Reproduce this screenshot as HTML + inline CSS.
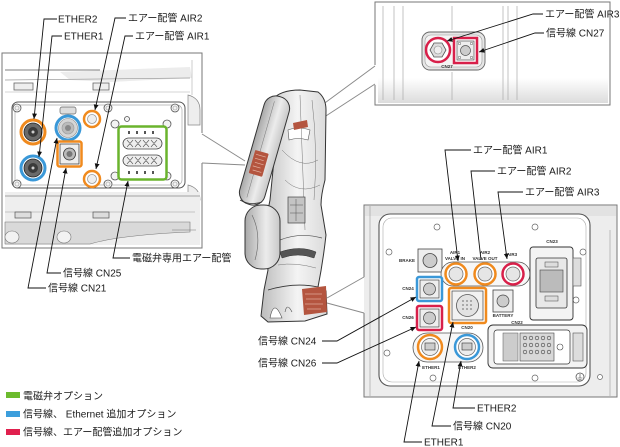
<!DOCTYPE html>
<html><head><meta charset="utf-8"><style>
html,body{margin:0;padding:0;background:#fff;}
svg{display:block;}
.t{font-family:"Liberation Sans","Noto Sans CJK JP",sans-serif;font-size:10px;fill:#1a1a1a;}
.s{font-family:"Liberation Sans",sans-serif;font-size:4.5px;font-weight:bold;fill:#333;text-anchor:middle;}
.ld{fill:none;stroke:#111;stroke-width:0.9;}
.g{fill:none;stroke:#8a8a8a;stroke-width:1;}
</style></head><body>
<svg width="620" height="447" viewBox="0 0 620 447" xmlns="http://www.w3.org/2000/svg">
<defs>
<marker id="a" viewBox="0 0 10 10" refX="10" refY="5" markerWidth="5.5" markerHeight="5.5" orient="auto" markerUnits="userSpaceOnUse"><path d="M0,0.5 L10,5 L0,9.5 z" fill="#111"/></marker>
<linearGradient id="m" x1="0" y1="0" x2="1" y2="0"><stop offset="0" stop-color="#bcbcbc"/><stop offset="0.55" stop-color="#f4f4f4"/><stop offset="1" stop-color="#dadada"/></linearGradient>
<linearGradient id="m2" x1="0" y1="0" x2="1" y2="0"><stop offset="0" stop-color="#a8a8a8"/><stop offset="0.6" stop-color="#ececec"/><stop offset="1" stop-color="#c8c8c8"/></linearGradient>
<linearGradient id="fb" x1="0" y1="0" x2="0" y2="1"><stop offset="0" stop-color="#fff"/><stop offset="1" stop-color="#dcdcdc"/></linearGradient>
</defs>

<!-- ============ LEFT INSET ============ -->
<rect x="2" y="53" width="200" height="195" fill="#fff"/>
<g>
<line x1="5" y1="70" x2="100" y2="70" stroke="#555" stroke-width="0.8"/>
<polygon points="60,72 190,67 192,78 110,82 70,80" fill="#ececec"/>
<line x1="5" y1="80" x2="190" y2="78" stroke="#999" stroke-width="0.7"/>
<line x1="5" y1="92" x2="190" y2="92" stroke="#aaa" stroke-width="0.6"/>
<rect x="14" y="83" width="19" height="7" fill="#eee" stroke="#666" stroke-width="0.8"/>
<rect x="93" y="83" width="16" height="7" fill="#eee" stroke="#666" stroke-width="0.8"/>
<path d="M188,95 Q200,98 200,110 L200,125 L188,125 Z" fill="#eee" stroke="#888" stroke-width="0.7"/>
<path d="M188,185 Q200,188 200,200 L188,200 Z" fill="#eee" stroke="#888" stroke-width="0.7"/>
<line x1="192" y1="60" x2="192" y2="95" stroke="#aaa" stroke-width="0.6"/>
</g>
<rect x="12" y="102" width="173" height="86" rx="6" fill="#fff" stroke="#555" stroke-width="1"/>
<rect x="15" y="105" width="167" height="80" rx="5" fill="none" stroke="#aaa" stroke-width="0.7"/>
<g fill="#f3f3f3" stroke="#555" stroke-width="0.8">
<circle cx="17" cy="108" r="4"/><circle cx="108" cy="108" r="4"/><circle cx="175" cy="108" r="4"/>
<circle cx="17" cy="184" r="4"/><circle cx="108" cy="184" r="4"/><circle cx="175" cy="184" r="4"/>
<circle cx="115" cy="124" r="4"/><circle cx="167" cy="124" r="4"/><circle cx="115" cy="176" r="4"/><circle cx="167" cy="176" r="4"/>
<circle cx="127" cy="119" r="2.5"/>
</g>
<g fill="none" stroke="#999" stroke-width="0.6">
<circle cx="17" cy="108" r="2"/><circle cx="108" cy="108" r="2"/><circle cx="175" cy="108" r="2"/>
<circle cx="17" cy="184" r="2"/><circle cx="108" cy="184" r="2"/><circle cx="175" cy="184" r="2"/>
</g>
<!-- bottom band -->
<rect x="5" y="192" width="195" height="53" fill="#eeeeee"/>
<line x1="5" y1="196" x2="200" y2="196" stroke="#888" stroke-width="0.8"/>
<line x1="5" y1="212" x2="195" y2="212" stroke="#999" stroke-width="0.6"/>
<rect x="15" y="212" width="16" height="6" fill="#ddd" stroke="#555" stroke-width="0.7"/>
<rect x="93" y="212" width="16" height="6" fill="#ddd" stroke="#555" stroke-width="0.7"/>
<path d="M5,222 L190,222 L190,232 Q120,235 90,244 L5,244 Z" fill="#d9d9d9" stroke="#777" stroke-width="0.6"/>
<ellipse cx="12" cy="237" rx="7" ry="6" fill="#f2f2f2" stroke="#777" stroke-width="0.6"/>
<ellipse cx="64" cy="237" rx="7" ry="6" fill="#f2f2f2" stroke="#777" stroke-width="0.6"/>
<line x1="172" y1="230" x2="196" y2="230" stroke="#777" stroke-width="0.6"/>
<path d="M202,133 V53 H2 V248 H202 V163" fill="none" stroke="#777" stroke-width="1"/>

<!-- left inset connectors -->
<circle cx="33" cy="132" r="12" fill="#fff" stroke="#f08a1e" stroke-width="3"/>
<circle cx="33" cy="132" r="9" fill="#6a6a6a" stroke="#222" stroke-width="0.8"/>
<circle cx="33" cy="132" r="5" fill="#3a3a3a"/>
<circle cx="33" cy="132" r="1.5" fill="#ccc"/>
<circle cx="33" cy="168" r="12" fill="#fff" stroke="#3a98d8" stroke-width="3"/>
<circle cx="33" cy="168" r="9" fill="#6a6a6a" stroke="#222" stroke-width="0.8"/>
<circle cx="33" cy="168" r="5" fill="#3a3a3a"/>
<circle cx="33" cy="168" r="1.5" fill="#ccc"/>
<rect x="60" y="107" width="16" height="7" rx="2" fill="#ddd" stroke="#666" stroke-width="0.7"/>
<circle cx="68" cy="128" r="12" fill="#fff" stroke="#3a98d8" stroke-width="3"/>
<circle cx="68" cy="128" r="9.5" fill="#d6d6d6" stroke="#888" stroke-width="0.6"/>
<circle cx="68" cy="128" r="6" fill="#bbb" stroke="#999" stroke-width="0.6"/>
<circle cx="68" cy="128" r="3" fill="#888"/>
<rect x="57.5" y="141.5" width="24" height="25" rx="2" fill="#fff" stroke="#f08a1e" stroke-width="2.5"/>
<rect x="60" y="144" width="19" height="20" fill="#eee" stroke="#444" stroke-width="0.8"/>
<circle cx="69.5" cy="154" r="6" fill="#bbb" stroke="#333" stroke-width="0.8"/>
<circle cx="69.5" cy="154" r="3" fill="#777"/>
<circle cx="92" cy="119" r="8" fill="#fff" stroke="#f08a1e" stroke-width="2.5"/>
<circle cx="92" cy="119" r="4.5" fill="#eee" stroke="#999" stroke-width="0.8"/>
<circle cx="92" cy="179" r="8" fill="#fff" stroke="#f08a1e" stroke-width="2.5"/>
<circle cx="92" cy="179" r="4.5" fill="#eee" stroke="#999" stroke-width="0.8"/>
<rect x="118.5" y="126.5" width="48" height="53" rx="3" fill="#fff" stroke="#6ab42d" stroke-width="2.5"/>
<rect x="123" y="138" width="39" height="11" rx="5.5" fill="#eee" stroke="#444" stroke-width="0.8"/>
<rect x="123" y="155" width="39" height="11" rx="5.5" fill="#eee" stroke="#444" stroke-width="0.8"/>
<g fill="none" stroke="#555" stroke-width="0.6">
<path d="M127,140 L133,147 M133,140 L127,147 M135,140 L141,147 M141,140 L135,147 M143,140 L149,147 M149,140 L143,147 M151,140 L157,147 M157,140 L151,147"/>
<path d="M127,157 L133,164 M133,157 L127,164 M135,157 L141,164 M141,157 L135,164 M143,157 L149,164 M149,157 L143,164 M151,157 L157,164 M157,157 L151,164"/>
</g>
<g fill="#555"><rect x="128" y="131" width="2" height="3"/><rect x="136" y="131" width="2" height="3"/><rect x="144" y="131" width="2" height="3"/><rect x="152" y="131" width="2" height="3"/>
<rect x="128" y="171" width="2" height="3"/><rect x="136" y="171" width="2" height="3"/><rect x="144" y="171" width="2" height="3"/><rect x="152" y="171" width="2" height="3"/></g>

<!-- ============ TOP-RIGHT INSET ============ -->
<rect x="375" y="2" width="235" height="103" fill="#fff"/>
<rect x="378" y="78" width="230" height="25" fill="url(#fb)"/>
<g stroke="#aaa" stroke-width="0.7">
<line x1="383" y1="6" x2="383" y2="100"/><line x1="394" y1="6" x2="394" y2="100"/><line x1="403" y1="6" x2="403" y2="100"/>
<line x1="452" y1="6" x2="452" y2="30"/><line x1="452" y1="72" x2="452" y2="100"/>
<line x1="503" y1="6" x2="503" y2="100"/><line x1="508" y1="6" x2="508" y2="100"/><line x1="517" y1="6" x2="517" y2="100"/>
</g>
<path d="M375,65 V2 H610 V105 H375 V85" fill="none" stroke="#777" stroke-width="1"/>
<rect x="422" y="32" width="63" height="38" rx="8" fill="#e6e6e6" stroke="#666" stroke-width="0.9"/>
<rect x="425" y="35" width="57" height="32" rx="6" fill="#f4f4f4" stroke="#999" stroke-width="0.6"/>
<circle cx="438" cy="50" r="12" fill="#fff" stroke="#d8204a" stroke-width="2.5"/>
<polygon points="446,50 442,57 434,57 430,50 434,43 442,43" fill="#ddd" stroke="#555" stroke-width="0.8"/>
<circle cx="438" cy="50" r="4" fill="#eee" stroke="#888" stroke-width="0.6"/>
<rect x="454" y="38" width="23" height="25" fill="#fff" stroke="#d8204a" stroke-width="2.5"/>
<rect x="457" y="41" width="17" height="19" fill="#eee" stroke="#555" stroke-width="0.7"/>
<circle cx="465.5" cy="50.5" r="5" fill="#ccc" stroke="#555" stroke-width="0.7"/>
<g fill="#fff" stroke="#555" stroke-width="0.5"><circle cx="459.5" cy="43.5" r="1.3"/><circle cx="471.5" cy="43.5" r="1.3"/><circle cx="459.5" cy="57.5" r="1.3"/><circle cx="471.5" cy="57.5" r="1.3"/></g>
<text class="s" x="447" y="68">CN27</text>

<!-- ============ BOTTOM-RIGHT INSET ============ -->
<rect x="364" y="205" width="253" height="192" fill="#ededed"/>
<rect x="365" y="206" width="251" height="10" fill="#e2e2e2"/>
<line x1="370" y1="206" x2="370" y2="396" stroke="#999" stroke-width="0.6"/>
<line x1="610" y1="230" x2="610" y2="396" stroke="#999" stroke-width="0.6"/>
<rect x="379" y="214" width="211" height="172" rx="11" fill="#fff" stroke="#555" stroke-width="1.1"/>
<rect x="383" y="218" width="203" height="164" rx="9" fill="none" stroke="#aaa" stroke-width="0.6"/>
<path d="M364,277 V205 H617 V397 H364 V313" fill="none" stroke="#777" stroke-width="1"/>
<g fill="#fff" stroke="#666" stroke-width="0.7">
<circle cx="437" cy="227" r="3"/><circle cx="535" cy="227" r="3"/><circle cx="389" cy="252" r="3"/><circle cx="583" cy="252" r="3"/>
<circle cx="387" cy="353" r="3"/><circle cx="433" cy="378" r="3"/><circle cx="535" cy="378" r="3"/><circle cx="600" cy="377" r="2.5"/>
<circle cx="576" cy="300" r="3"/>
</g>
<circle cx="580" cy="377" r="4" fill="#fff" stroke="#444" stroke-width="0.7"/>
<path d="M580,374 V378 M577.5,378 H582.5 M578.5,379.5 H581.5" stroke="#444" stroke-width="0.6"/>
<!-- BRAKE -->
<rect x="418" y="249" width="24" height="23" fill="#eee" stroke="#444" stroke-width="0.8"/>
<circle cx="430" cy="260.5" r="7" fill="#ccc" stroke="#444" stroke-width="0.8"/>
<text class="s" x="407" y="262">BRAKE</text>
<!-- AIR capsule -->
<rect x="441" y="262" width="89" height="24" rx="12" fill="#f7f7f7" stroke="#555" stroke-width="0.8"/>
<circle cx="456" cy="274" r="10.5" fill="#fff" stroke="#f08a1e" stroke-width="2.5"/>
<circle cx="456" cy="274" r="7" fill="#e6e6e6" stroke="#666" stroke-width="0.7"/>
<circle cx="485" cy="274" r="10.5" fill="#fff" stroke="#f08a1e" stroke-width="2.5"/>
<circle cx="485" cy="274" r="7" fill="#e6e6e6" stroke="#666" stroke-width="0.7"/>
<circle cx="513" cy="274" r="10.5" fill="#fff" stroke="#d8204a" stroke-width="2.5"/>
<circle cx="513" cy="274" r="7" fill="#e6e6e6" stroke="#666" stroke-width="0.7"/>
<text class="s" x="455" y="254">AIR1</text><text class="s" x="455" y="260">VALVE IN</text>
<text class="s" x="485" y="254">AIR2</text><text class="s" x="485" y="260">VALVE OUT</text>
<text class="s" x="512" y="256">AIR3</text>
<!-- CN24 / CN26 -->
<rect x="417" y="277" width="25" height="24" rx="2" fill="#fff" stroke="#3a98d8" stroke-width="2.5"/>
<rect x="420" y="280" width="19" height="18" fill="#eee" stroke="#444" stroke-width="0.7"/>
<circle cx="429.5" cy="289" r="6" fill="#ccc" stroke="#444" stroke-width="0.7"/>
<text class="s" x="408" y="290">CN24</text>
<rect x="417" y="306" width="25" height="24" rx="2" fill="#fff" stroke="#d8204a" stroke-width="2.5"/>
<rect x="420" y="309" width="19" height="18" fill="#eee" stroke="#444" stroke-width="0.7"/>
<circle cx="429.5" cy="318" r="6" fill="#ccc" stroke="#444" stroke-width="0.7"/>
<text class="s" x="408" y="319">CN26</text>
<!-- CN20 -->
<rect x="449" y="288" width="37" height="35" rx="2" fill="#fff" stroke="#f08a1e" stroke-width="2.5"/>
<rect x="452" y="291" width="31" height="29" fill="#f2f2f2" stroke="#444" stroke-width="0.7"/>
<circle cx="467.5" cy="305.5" r="11" fill="#e2e2e2" stroke="#555" stroke-width="0.8"/>
<g fill="#999"><circle cx="463" cy="301" r="1"/><circle cx="467" cy="301" r="1"/><circle cx="471" cy="301" r="1"/><circle cx="463" cy="305" r="1"/><circle cx="467" cy="305" r="1"/><circle cx="471" cy="305" r="1"/><circle cx="463" cy="309" r="1"/><circle cx="467" cy="309" r="1"/><circle cx="471" cy="309" r="1"/></g>
<text class="s" x="467" y="329">CN20</text>
<!-- BATTERY -->
<rect x="493" y="290" width="20" height="22" fill="#eee" stroke="#444" stroke-width="0.8"/>
<circle cx="503" cy="301" r="6" fill="#ccc" stroke="#444" stroke-width="0.7"/>
<text class="s" x="503" y="317">BATTERY</text>
<!-- CN23 -->
<text class="s" x="552" y="243">CN23</text>
<rect x="530" y="247" width="43" height="73" rx="3" fill="#f4f4f4" stroke="#333" stroke-width="0.9"/>
<rect x="573" y="258" width="8" height="28" fill="#ddd" stroke="#555" stroke-width="0.6"/>
<rect x="536" y="258" width="31" height="50" rx="2" fill="#e8e8e8" stroke="#333" stroke-width="0.8"/>
<rect x="540" y="270" width="23" height="22" fill="#bbb" stroke="#444" stroke-width="0.6"/>
<rect x="545" y="262" width="13" height="5" fill="#ddd" stroke="#444" stroke-width="0.5"/>
<rect x="545" y="296" width="13" height="5" fill="#ddd" stroke="#444" stroke-width="0.5"/>
<!-- CN22 -->
<text class="s" x="517" y="324">CN22</text>
<rect x="488" y="325" width="99" height="43" rx="5" fill="#f2f2f2" stroke="#333" stroke-width="0.9"/>
<rect x="494" y="330" width="76" height="34" rx="3" fill="#fff" stroke="#333" stroke-width="0.7"/>
<rect x="503" y="333" width="15" height="28" fill="#ccc" stroke="#555" stroke-width="0.5"/>
<rect x="520" y="333" width="34" height="28" fill="#d8d8d8" stroke="#444" stroke-width="0.6"/>
<g fill="none" stroke="#444" stroke-width="0.6">
<circle cx="525" cy="338" r="1.8"/><circle cx="531" cy="338" r="1.8"/><circle cx="537" cy="338" r="1.8"/><circle cx="543" cy="338" r="1.8"/><circle cx="549" cy="338" r="1.8"/>
<circle cx="525" cy="345" r="1.8"/><circle cx="531" cy="345" r="1.8"/><circle cx="537" cy="345" r="1.8"/><circle cx="543" cy="345" r="1.8"/><circle cx="549" cy="345" r="1.8"/>
<circle cx="525" cy="352" r="1.8"/><circle cx="531" cy="352" r="1.8"/><circle cx="537" cy="352" r="1.8"/><circle cx="543" cy="352" r="1.8"/><circle cx="549" cy="352" r="1.8"/>
<circle cx="560" cy="347" r="3"/>
</g>
<rect x="573" y="333" width="10" height="28" fill="#ddd" stroke="#555" stroke-width="0.6"/>
<!-- ETHER -->
<rect x="413" y="333" width="70" height="29" rx="14.5" fill="#f7f7f7" stroke="#555" stroke-width="0.8"/>
<circle cx="430" cy="347" r="12" fill="#fff" stroke="#f08a1e" stroke-width="2.5"/>
<circle cx="430" cy="347" r="8.5" fill="#eee" stroke="#666" stroke-width="0.7"/>
<rect x="425" y="343" width="10" height="7" fill="#ccc" stroke="#333" stroke-width="0.6"/>
<circle cx="467" cy="347" r="12" fill="#fff" stroke="#3a98d8" stroke-width="2.5"/>
<circle cx="467" cy="347" r="8.5" fill="#eee" stroke="#666" stroke-width="0.7"/>
<rect x="462" y="343" width="10" height="7" fill="#ccc" stroke="#333" stroke-width="0.6"/>
<text class="s" x="431" y="369">ETHER1</text><text class="s" x="467" y="369">ETHER2</text>

<!-- ============ ROBOT ============ -->
<line x1="202" y1="134" x2="245" y2="161" class="g"/>
<line x1="202" y1="163" x2="245" y2="165" class="g"/>
<line x1="375" y1="66" x2="299" y2="122" class="g"/>
<line x1="375" y1="84" x2="312" y2="125" class="g"/>
<line x1="327" y1="298" x2="364" y2="277" class="g"/>
<line x1="327" y1="303" x2="364" y2="313" class="g"/>

<path d="M272,100 Q280,90 300,90 L318,92 Q326,98 326,110 L325,180 Q321,195 321,205 L326,235 Q323,262 318,287 L326,291 L327,314 L305,321 L268,322 L261,316 L264,290 L268,270 L262,240 L270,200 L275,150 Z" fill="url(#m)" stroke="#333" stroke-width="1"/>
<path d="M288,130 Q298,126 310,130 L308,140 Q298,137 289,140 Z" fill="#fff" stroke="#555" stroke-width="0.6"/>
<path d="M268,290 Q295,282 318,287" fill="none" stroke="#333" stroke-width="0.8"/>
<path d="M280,240 Q300,232 322,238" fill="none" stroke="#555" stroke-width="0.7"/>
<path d="M282,150 Q300,170 318,160 M285,180 Q300,195 320,185 M300,95 L305,230 M312,100 Q318,150 314,200 M278,265 Q295,262 316,268" fill="none" stroke="#777" stroke-width="0.5"/>
<rect x="288" y="197" width="17" height="26" fill="#c4c4c4" stroke="#444" stroke-width="0.7"/>
<path d="M290,205 H303 M290,213 H303 M296,199 V221" stroke="#555" stroke-width="0.5"/>
<path d="M280,252 Q300,245 316,252 L314,258 Q298,252 282,258 Z" fill="#555" stroke="#333" stroke-width="0.5"/>
<!-- shoulder -->
<rect x="245" y="205" width="35" height="64" rx="16" fill="url(#m2)" stroke="#333" stroke-width="1"/>
<path d="M252,215 Q262,235 255,260" fill="none" stroke="#666" stroke-width="0.6"/>
<!-- forearm -->
<g transform="translate(264.5,150.5) rotate(16)">
<rect x="-13" y="-56" width="26" height="112" rx="12" fill="url(#m2)" stroke="#333" stroke-width="1"/>
<line x1="-4" y1="-50" x2="-4" y2="50" stroke="#777" stroke-width="0.5"/>
<rect x="-9" y="2" width="14" height="24" rx="1" fill="#b4553f"/>
<path d="M-7,6 H3 M-7,10 H2 M-6,14 H3 M-7,18 H1 M-6,22 H3" stroke="#e4b4a4" stroke-width="0.7"/>
</g>
<path d="M240,200 Q250,206 262,202" fill="none" stroke="#333" stroke-width="0.8"/>
<!-- patches -->
<polygon points="293,123 307,120 308,127 294,130" fill="#b4553f"/>
<polygon points="302,289 326,286 327,312 304,315" fill="#b4553f"/>
<path d="M305,294 H322 M306,299 H321 M305,304 H323 M307,309 H321" stroke="#e0a898" stroke-width="0.8"/>
<path d="M270,318 Q274,298 282,318 Z" fill="#fff" stroke="#444" stroke-width="0.6"/>
<path d="M285,312 Q287,302 292,312" fill="none" stroke="#444" stroke-width="0.6"/>

<!-- ============ LEADERS ============ -->
<g class="ld">
<path d="M57,19 H44 L34,119" marker-end="url(#a)"/>
<path d="M62,36 H52 L39,157" marker-end="url(#a)"/>
<path d="M126,18 H115 L95,110" marker-end="url(#a)"/>
<path d="M133,36 H125 L96,169" marker-end="url(#a)"/>
<path d="M130,258 H113 L128,181" marker-end="url(#a)"/>
<path d="M61,273 H47 L66,168" marker-end="url(#a)"/>
<path d="M46,288 H28 L57,138" marker-end="url(#a)"/>
<path d="M543,14 H533 L447,41" marker-end="url(#a)"/>
<path d="M544,33 H535 L479,52" marker-end="url(#a)"/>
<path d="M471,150 H445 L458,261" marker-end="url(#a)"/>
<path d="M495,171 H471 L481,260"/>
<path d="M523,192 H498 L507,259" marker-end="url(#a)"/>
<path d="M322,341 H337 L416,297" marker-end="url(#a)"/>
<path d="M322,363 H337 L416,327" marker-end="url(#a)"/>
<path d="M475,408 H453 L461,361" marker-end="url(#a)"/>
<path d="M451,426 H432 L453,322" marker-end="url(#a)"/>
<path d="M422,442 H404 L419,361" marker-end="url(#a)"/>
</g>

<!-- ============ LABELS ============ -->
<text class="t" x="58" y="22.5">ETHER2</text>
<text class="t" x="64" y="39.5">ETHER1</text>
<text class="t" x="128" y="21.5">エアー配管 AIR2</text>
<text class="t" x="135" y="39.5">エアー配管 AIR1</text>
<text class="t" x="132" y="261.5">電磁弁専用エアー配管</text>
<text class="t" x="63" y="276.5">信号線 CN25</text>
<text class="t" x="48" y="291.5">信号線 CN21</text>
<text class="t" x="545" y="17.5">エアー配管 AIR3</text>
<text class="t" x="546" y="36.5">信号線 CN27</text>
<text class="t" x="473" y="153.5">エアー配管 AIR1</text>
<text class="t" x="497" y="174.5">エアー配管 AIR2</text>
<text class="t" x="525" y="195.5">エアー配管 AIR3</text>
<text class="t" x="258" y="344.5">信号線 CN24</text>
<text class="t" x="258" y="366.5">信号線 CN26</text>
<text class="t" x="477" y="411.5">ETHER2</text>
<text class="t" x="453" y="429.5">信号線 CN20</text>
<text class="t" x="424" y="445.5">ETHER1</text>

<!-- ============ LEGEND ============ -->
<rect x="6" y="392" width="14" height="6" fill="#6cbb2e"/>
<rect x="6" y="411" width="14" height="6" fill="#3c9edc"/>
<rect x="6" y="429" width="14" height="6" fill="#e0204e"/>
<text class="t" x="23" y="399.5">電磁弁オプション</text>
<text class="t" x="23" y="417.5">信号線、 Ethernet 追加オプション</text>
<text class="t" x="23" y="435.5">信号線、エアー配管追加オプション</text>
</svg>
</body></html>
